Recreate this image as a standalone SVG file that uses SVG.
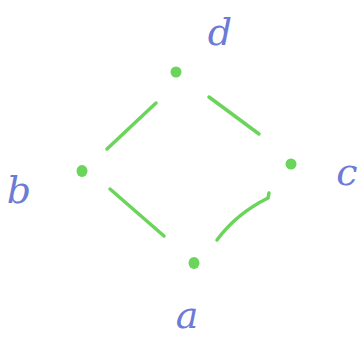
<svg xmlns="http://www.w3.org/2000/svg" width="362" height="339" viewBox="0 0 362 339">
<style>
.dot{fill:#6bd45a;stroke:none}
.edge{fill:none;stroke:#6bd45a;stroke-width:3.5;stroke-linecap:round}
.lbl{font-family:"DejaVu Serif","Liberation Serif",serif;font-style:italic;font-size:38px;fill:#6c7bd6;text-anchor:middle}
</style>
<rect width="362" height="339" fill="#ffffff"/>
<g id="connectors">
<path class="edge" d="M156,103 L107,149"/>
<path class="edge" d="M209,97 L259,134"/>
<path class="edge" d="M110,189 L164,236"/>
<path class="edge" d="M269,193 L268,198 Q236,214 217,240"/>
</g>
<g id="node-d"><ellipse class="dot" cx="176" cy="72" rx="5.5" ry="5.5"/><text class="lbl" x="220" y="45">d</text></g>
<g id="node-b"><ellipse class="dot" cx="82" cy="171" rx="5.5" ry="6"/><text class="lbl" x="19" y="203">b</text></g>
<g id="node-c"><ellipse class="dot" cx="291" cy="164" rx="5.5" ry="5.5"/><text class="lbl" x="347" y="185">c</text></g>
<g id="node-a"><ellipse class="dot" cx="194" cy="263" rx="5.5" ry="6"/><text class="lbl" x="187" y="328">a</text></g>
</svg>
